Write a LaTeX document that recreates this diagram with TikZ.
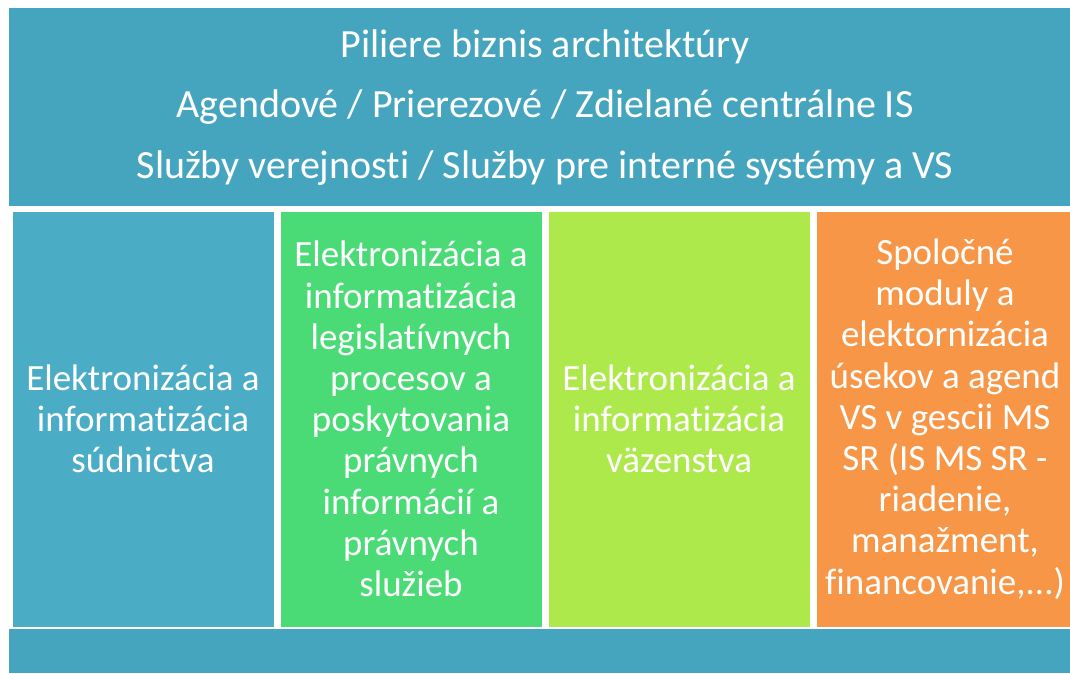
\documentclass[tikz,border=0pt]{standalone}
\usepackage{fontspec}
\setmainfont[Ligatures={NoCommon}]{Carlito}
\definecolor{banner}{HTML}{46A5BE}
\definecolor{cblue}{HTML}{4BACC6}
\definecolor{cgreen}{HTML}{4ADB76}
\definecolor{clime}{HTML}{ADE94A}
\definecolor{corange}{HTML}{F79646}
\tikzset{
  col/.style={draw=white, line width=1pt},
  coltext/.style={text=white, align=center, font=\fontsize{37}{41.2}\selectfont, inner sep=0pt},
  toptext/.style={text=white, align=center, font=\fontsize{40}{44}\selectfont, inner sep=0pt}
}
\begin{document}
\begin{tikzpicture}[x=1pt,y=-1pt]
\useasboundingbox[fill=white] (0,0) rectangle (1070,673);
% top banner
\fill[banner] (9,8) rectangle (1070,206);
\node[toptext] (t1) at (545,47) {Piliere biznis architektúry};
\node[toptext] (t2) at (545,107) {Agendové / Prierezové / Zdielané centrálne IS};
\node[toptext] (t3) at (545,168) {Služby verejnosti / Služby pre interné systémy a VS};
% columns
\filldraw[col, fill=cblue] (12,211) rectangle (274,627);
\filldraw[col, fill=cgreen] (280,211) rectangle (542,627);
\filldraw[col, fill=clime] (548,211) rectangle (810,627);
\filldraw[col, fill=corange] (816,211) rectangle (1072,627);
\node[coltext] (c1) at (143,419) {Elektronizácia a\\informatizácia\\súdnictva};
\node[coltext] (c2) at (411,419) {Elektronizácia a\\informatizácia\\legislatívnych\\procesov a\\poskytovania\\právnych\\informácií a\\právnych\\služieb};
\node[coltext] (c3) at (679,419) {Elektronizácia a\\informatizácia\\väzenstva};
\node[coltext] (c4) at (945,419) {Spoločné\\moduly a\\elektornizácia\\úsekov a agend\\VS v gescii MS\\SR (IS MS SR -\\riadenie,\\manažment,\\financovanie,...)};
% bottom bar
\fill[banner] (9,629) rectangle (1070,673);
\end{tikzpicture}
\end{document}
